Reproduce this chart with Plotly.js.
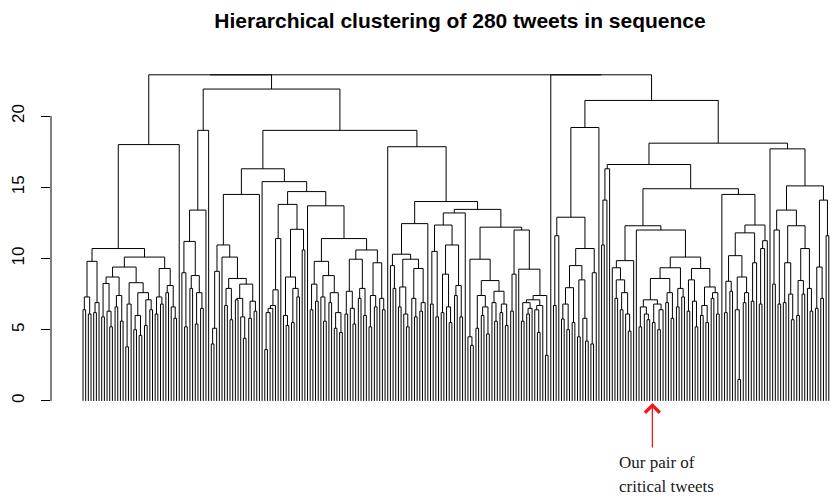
<!DOCTYPE html>
<html><head><meta charset="utf-8">
<script src="https://cdn.plot.ly/plotly-3.0.1.min.js"></script>
<style>html,body{margin:0;padding:0;background:#fff}</style>
</head><body><div id="chart" style="width:830px;height:497px"></div>
<script>
// ---------- data: dendrogram ----------
// notation: x = one tweet (leaf), (a,b)h = merge of a and b at height h
const L = "x";
function m(a, b, h) { return "(" + a + "," + b + ")" + h; }

// left branch A (leaves 1-37)
const A1a   = "(((x,x)6.4,(x,x)6.1)7.3,((x,x)6.2,x)6.9)9.8";
const A1bLl = "(((x,x)5.9,(x,(x,x)5.2)6.3)8.25,((x,x)6.6,(x,x)5.6)7.4)8.7";
const A1bLr = "(((x,x)3.8,x)6.8,(((x,x)5.0,(x,x)4.6)6.0,((x,x)5.3,(x,x)6.4)7.1)7.6)8.3";
const A1bR  = "(((x,x)6.1,(x,x)6.8)7.3,((x,x)7.6,(x,(x,x)5.8)6.6)8.1)9.3";
// branch B1 (leaves 38-48)
const P38   = "(x,(x,x)5.2)9.0";
const Q41   = "((x,x)7.9,((x,x)5.4,(x,x)6.5)7.6)8.8";
// branch B2a (leaves 49-67)
const B2aL1 = "(((x,x)4.0,x)5.1,x)9.1";
const B2aL2 = "(x,(((x,x)6.7,(x,x)5.7)7.9,(((x,x)7.1,(x,(x,x)4.4)5.9)7.2,((x,x)5.8,(x,x)6.3)7.0)8.2)8.6)10.1";
// branch B2b (leaves 68-114)
const X1a   = "((((((x,x)3.6,x)6.2,x)6.5,x)6.7,x)7.8,x)11.4";
const X1bL  = "((x,(x,x)5.3)6.0,((x,x)5.5,(x,x)7.3)7.9)8.7";
const X1bR  = "(x,x)10.6";
const Z1a   = "((x,x)6.4,(x,x)7.0)8.2";
const Z1b   = "((x,(x,x)5.6)7.3,((x,x)6.9,((x,x)5.1,(x,x)4.8)6.2)7.6)8.8";
const Z2a   = "(((x,x)6.1,(x,(x,x)5.4)6.5)7.7,((x,x)7.2,(x,x)6.0)7.9)9.95";
const Z2b   = "(((x,x)5.2,(x,x)6.6)7.4,(x,(x,x)6.4)7.2)9.7";
// branch B2 right (leaves 115-175)
const Y1aL  = "(x,(x,x)7.9)9.5";
const Y1aR  = "(((x,x)6.6,(x,(x,x)5.2)6.1)8.0,((x,(x,x)5.9)7.2,((x,x)6.3,x)6.9)9.3)9.95";
const Y2aL  = "(((x,x)6.8,(x,x)5.9)10.5,(((x,x)6.2,(x,(x,x)5.5)6.6)8.9,((x,x)7.4,(x,x)5.9)8.1)10.95)12.35";
const Y2bL  = "((x,(x,x)3.9)4.5,(((x,x)5.1,((x,x)6.0,(x,x)4.7)6.6)7.4,((x,(x,x)5.6)6.9,((x,x)6.2,(x,x)5.3)6.8)7.7)8.45)9.95";
const Y2bRl = "((x,x)6.3,x)8.9";
const C165  = "(((x,x)5.6,((x,x)6.1,x)6.5)6.9,((x,(x,x)4.8)6.4,x)6.7)7.1";
const C174  = "(x,x)3.2";
// branch D1 (leaves 177-194)
const D1aL  = "((x,x)6.7,x)11.6";
const M1    = "((((x,x)5.75,(x,x)5.0)6.8,(x,x)5.5)7.95,((x,x)4.5,(x,(x,x)4.2)5.8)8.5)9.5";
const M2    = "((x,x)4.0,x)9.0";
// branch D2a (leaves 195-257)
const D2aL  = "(((x,x)10.95,x)14.1,x)16.3";
const C200  = "((x,x)7.2,((x,x)6.4,(x,(x,x)4.9)6.1)7.6)8.5";
const G1a1  = "(((x,x)5.2,(x,(x,x)5.7)6.1)6.6,((x,x)5.5,((x,x)5.0,x)6.4)6.8)7.1";
const G1a2  = "((x,x)6.9,(x,x)5.8)7.6";
const G1b   = "((x,x)6.6,(x,x)7.3)7.9";
const G2a   = "((x,x)6.3,(x,(x,x)5.2)7.0)8.5";
const G2b   = "(((x,x)6.0,(x,x)5.5)6.7,((x,x)7.2,(x,x)6.1)7.6)8.0";
const H1a   = "(((x,x)6.2,(x,x)7.7)8.4,((x,(x,x)1.5)6.4,((x,x)6.9,x)7.6)8.7)10.2";
const H1b   = "((x,x)7.0,x)9.7";
const H2    = "(((x,x)6.8,x)10.7,x)11.25";
// branch D2b (leaves 258-280)
const F1a   = "((x,x)8.2,(x,x)6.8)12.0";
const F1bL  = "((x,x)6.9,(x,(x,x)5.7)7.5)9.7";
const F1bR  = "(((x,x)6.0,(x,x)7.5)8.45,(x,(x,x)6.3)7.9)10.7";
const F2    = "(((x,x)6.5,(x,x)7.2)9.4,(x,x)11.6)14.1";

// upper merge heights
const A  = m(m(A1a, m(m(A1bLl, A1bLr, 9.4), A1bR, 10.1), 10.7), L, 18.0);
const B1 = m(m(m(P38, Q41, 11.2), L, 13.4), L, 19.0);
const B2a = m(m(B2aL1, B2aL2, 10.95), L, 14.5);
const X1 = m(X1a, m(X1bL, X1bR, 12.05), 13.8);
const X2 = m(L, m(m(Z1a, Z1b, 9.8), m(Z2a, Z2b, 10.6), 11.4), 13.7);
const B2b = m(L, m(X1, X2, 14.7), 15.4);
const Y1 = m(m(Y1aL, Y1aR, 10.3), L, 12.45);
const Y2 = m(m(Y2aL, L, 13.2), m(Y2bL, m(Y2bRl, m(L, m(C165, C174, 7.4), 9.25), 12.0), 12.2), 13.45);
const B2 = m(m(B2a, B2b, 16.3), m(L, m(Y1, Y2, 14.0), 17.85), 19.0);
const rootLeft = m(A, m(B1, B2, 21.9), 22.9);
const D1 = m(m(D1aL, m(M1, M2, 10.7), 12.9), L, 19.2);
const E1 = m(m(m(L, C200, 9.35), L, 9.85),
             m(L, m(m(m(G1a1, G1a2, 8.6), G1b, 9.35), m(G2a, G2b, 9.3), 10.1), 12.0), 12.3);
const E2 = m(L, m(m(H1a, H1b, 11.8), H2, 12.35), 14.5);
const D2 = m(m(D2aL, m(E1, E2, 14.9), 16.6),
             m(L, m(m(F1a, m(F1bL, F1bR, 12.3), 13.4), F2, 15.1), 17.7), 18.1);
const rootRight = m(L, m(D1, D2, 21.1), 22.9);
const treeText = m(rootLeft, rootRight, 22.9);

const yTicks = [0, 5, 10, 15, 20];
const criticalLeaf = 214;
const titleText = "Hierarchical clustering of 280 tweets in sequence";
const noteLines = ["Our pair of", "critical tweets"];

// ---------- parse & lay out ----------
function parseTree(s) {
  let i = 0;
  function node() {
    if (s[i] === "x") { i++; return { leaf: true }; }
    if (s[i] !== "(") throw new Error("parse error at " + i);
    i++;
    const a = node();
    if (s[i] !== ",") throw new Error("expected , at " + i);
    i++;
    const b = node();
    if (s[i] !== ")") throw new Error("expected ) at " + i);
    i++;
    let j = i;
    while (j < s.length && /[0-9.]/.test(s[j])) j++;
    const h = parseFloat(s.slice(i, j));
    i = j;
    return { leaf: false, a: a, b: b, h: h };
  }
  return node();
}
const tree = parseTree(treeText);
let nLeaves = 0;
const xs = [], ys = [];
function place(n) {
  if (n.leaf) { nLeaves++; n.x = nLeaves; n.h = 0; return; }
  place(n.a); place(n.b);
  n.x = (n.a.x + n.b.x) / 2;
  xs.push(n.a.x, n.a.x, n.b.x, n.b.x, null);
  ys.push(n.a.h, n.h, n.h, n.b.h, null);
}
place(tree);

const trace = {
  type: "scatter", mode: "lines", x: xs, y: ys,
  line: { color: "#000", width: 1 }, hoverinfo: "skip", showlegend: false
};

const noteFont = { family: "Liberation Serif, serif", size: 17, color: "#1a1a1a" };
const layout = {
  width: 830, height: 497,
  margin: { l: 51, r: 0, t: 61, b: 83 },
  paper_bgcolor: "#fff", plot_bgcolor: "#fff",
  title: {
    text: titleText, x: 460 / 830, xref: "container", xanchor: "center",
    y: 1 - 21 / 497, yref: "container", yanchor: "middle",
    font: { family: "Liberation Sans, Arial, sans-serif", size: 21, weight: "bold", color: "#000" }
  },
  xaxis: {
    range: [1 - 11.97, nLeaves + 0.45], visible: false, fixedrange: true
  },
  yaxis: {
    range: [-0.92, 23.87], tickvals: yTicks, ticktext: yTicks.map(String),
    ticks: "outside", ticklen: 9, tickwidth: 1, tickcolor: "#000",
    tickangle: -90, showgrid: false, zeroline: false, showline: false,
    ticklabelstandoff: 10,
    tickfont: { family: "Liberation Sans, Arial, sans-serif", size: 17, color: "#000" }
  },
  shapes: [{
    type: "line", xref: "paper", x0: 0, x1: 0, yref: "y", y0: yTicks[0], y1: yTicks[yTicks.length - 1],
    line: { color: "#000", width: 1 }
  }],
  annotations: [
    { x: criticalLeaf, y: -0.15, xref: "x", yref: "y", text: "", showarrow: true,
      ax: 0, ay: 46, arrowhead: 4, arrowsize: 2.2, arrowwidth: 1.3, arrowcolor: "#f01818" },
    { x: 200.8, y: (414 - 462) / 353, xref: "x", yref: "paper", text: noteLines[0], showarrow: false,
      xanchor: "left", yanchor: "middle", font: noteFont },
    { x: 200.8, y: (414 - 486) / 353, xref: "x", yref: "paper", text: noteLines[1], showarrow: false,
      xanchor: "left", yanchor: "middle", font: noteFont }
  ]
};

Plotly.newPlot("chart", [trace], layout, { displayModeBar: false, staticPlot: true });
</script></body></html>
